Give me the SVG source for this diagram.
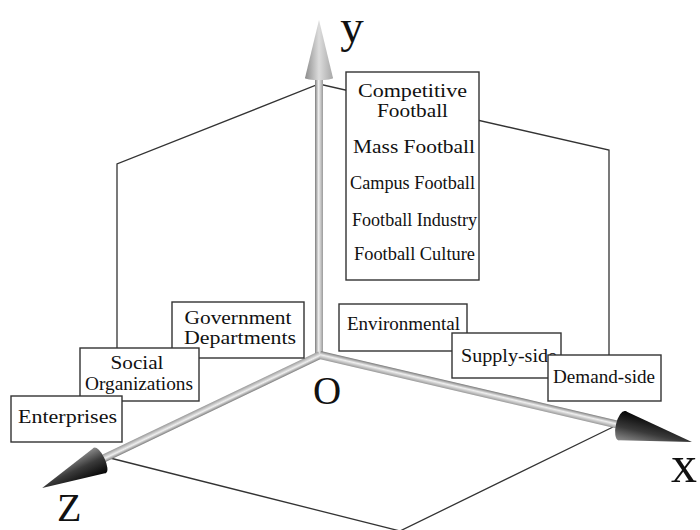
<svg xmlns="http://www.w3.org/2000/svg" width="700" height="530" viewBox="0 0 700 530">
<style>
.ln{fill:none;stroke:#333;stroke-width:1.3}
.bx{fill:#fff;stroke:#333;stroke-width:1.4}
.t{font-family:"Liberation Serif","Times New Roman",serif;font-size:18px;fill:#111;text-anchor:middle}
.big{font-family:"Liberation Serif","Times New Roman",serif;fill:#111}
</style>
<defs>
<linearGradient id="shaft" x1="0" y1="0" x2="0" y2="1">
<stop offset="0" stop-color="#7d7d7d"/><stop offset="0.45" stop-color="#efefef"/><stop offset="1" stop-color="#9a9a9a"/>
</linearGradient>
<linearGradient id="darkCone" x1="0" y1="0" x2="0" y2="1">
<stop offset="0" stop-color="#050505"/><stop offset="0.55" stop-color="#3a3a3a"/><stop offset="1" stop-color="#8a8a8a"/>
</linearGradient>
<linearGradient id="lightCone" x1="0" y1="0" x2="0" y2="1">
<stop offset="0" stop-color="#8c8c8c"/><stop offset="0.5" stop-color="#dcdcdc"/><stop offset="1" stop-color="#a8a8a8"/>
</linearGradient>
</defs>
<rect width="700" height="530" fill="#fff"/>
<g id="connectors">
<polyline class="ln" points="117,400 117,164 319,84 609,150 609,380"/>
<polyline class="ln" points="110,458 400,531 613,427"/>
</g>
<g id="axis-y" transform="translate(319,355) rotate(-90)">
<rect x="0" y="-4" width="278" height="8" fill="url(#shaft)"/>
<polygon points="277,-14 335,0 277,14" fill="url(#lightCone)"/>
<ellipse cx="277" cy="0" rx="2" ry="14" fill="url(#lightCone)"/>
</g>
<g id="axis-z" transform="translate(320,355) rotate(154.43)">
<rect x="0" y="-4" width="246" height="8" fill="url(#shaft)"/>
<polygon points="244,-14 308,0 244,14" fill="url(#darkCone)"/>
<ellipse cx="244" cy="0" rx="5" ry="14" fill="url(#darkCone)"/>
</g>
<g id="axis-x" transform="translate(320,355) rotate(13.16)">
<rect x="0" y="-4" width="312" height="8" fill="url(#shaft)"/>
<polygon points="310,-15 382,0 310,15" fill="url(#darkCone)"/>
<ellipse cx="310" cy="0" rx="6" ry="15" fill="url(#darkCone)"/>
</g>
<g id="labels">
<text class="big" x="352" y="42" font-size="47" text-anchor="middle">y</text>
<text class="big" x="671" y="482" font-size="52">x</text>
<text class="big" x="57" y="521" font-size="40">Z</text>
<text class="big" x="327" y="404" font-size="39" text-anchor="middle">O</text>
</g>
<g id="node-football">
<rect class="bx" x="346" y="72" width="133" height="208"/>
<text class="t" x="412.5" y="97" textLength="109" lengthAdjust="spacingAndGlyphs">Competitive</text>
<text class="t" x="412.5" y="117" textLength="71" lengthAdjust="spacingAndGlyphs">Football</text>
<text class="t" x="414" y="153" textLength="122" lengthAdjust="spacingAndGlyphs">Mass Football</text>
<text class="t" x="412.5" y="189" textLength="125" lengthAdjust="spacingAndGlyphs">Campus Football</text>
<text class="t" x="414.5" y="226" textLength="125" lengthAdjust="spacingAndGlyphs">Football Industry</text>
<text class="t" x="414.5" y="260" textLength="121" lengthAdjust="spacingAndGlyphs">Football Culture</text>
</g>
<g id="node-government">
<rect class="bx" x="172" y="302" width="132" height="56"/>
<text class="t" x="238" y="324" textLength="107" lengthAdjust="spacingAndGlyphs">Government</text>
<text class="t" x="240" y="344" textLength="112" lengthAdjust="spacingAndGlyphs">Departments</text>
</g>
<g id="node-social">
<rect class="bx" x="80" y="348" width="119" height="53"/>
<text class="t" x="137" y="369" textLength="53" lengthAdjust="spacingAndGlyphs">Social</text>
<text class="t" x="139" y="390" textLength="108" lengthAdjust="spacingAndGlyphs">Organizations</text>
</g>
<g id="node-enterprises">
<rect class="bx" x="11" y="396" width="111" height="46"/>
<text class="t" x="67.5" y="423" textLength="99" lengthAdjust="spacingAndGlyphs">Enterprises</text>
</g>
<g id="node-environmental">
<rect class="bx" x="339" y="304" width="128" height="47"/>
<text class="t" x="403.5" y="330" textLength="113" lengthAdjust="spacingAndGlyphs">Environmental</text>
</g>
<g id="node-supply">
<rect class="bx" x="452" y="333" width="109" height="45"/>
<text class="t" x="509" y="362" textLength="96" lengthAdjust="spacingAndGlyphs">Supply-side</text>
</g>
<g id="node-demand">
<rect class="bx" x="548" y="355" width="113" height="46"/>
<text class="t" x="604" y="383" textLength="102" lengthAdjust="spacingAndGlyphs">Demand-side</text>
</g>
</svg>
